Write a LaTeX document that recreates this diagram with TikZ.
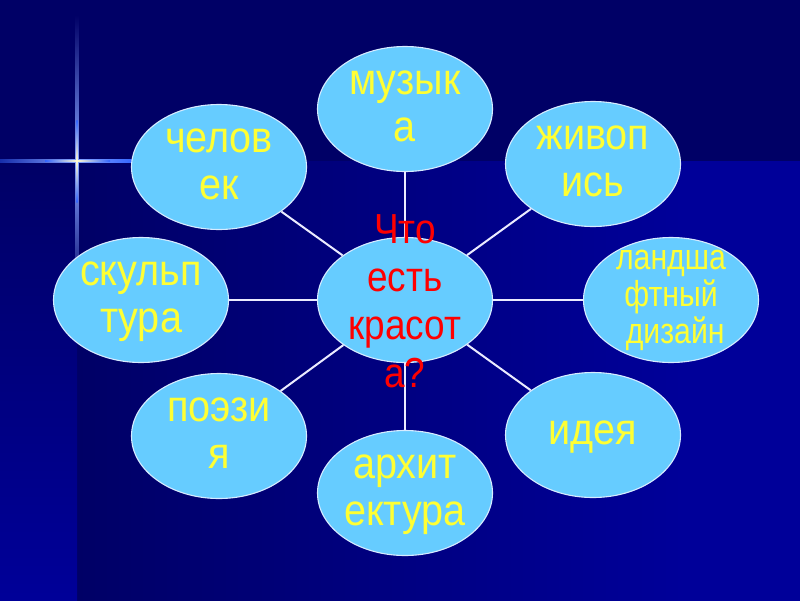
\documentclass[tikz,border=0pt]{standalone}
\usepackage{fontspec}
\setmainfont{Liberation Sans}
\usetikzlibrary{shapes.geometric}
\definecolor{bgdark}{RGB}{0,0,102}
\definecolor{bglight}{RGB}{0,0,153}
\definecolor{bub}{RGB}{102,204,255}
\definecolor{bubedge}{RGB}{215,235,255}
\definecolor{txty}{RGB}{255,255,51}
\definecolor{txtr}{RGB}{255,0,0}
\definecolor{starblue}{RGB}{50,100,255}
\definecolor{starcore}{RGB}{255,250,210}
\newcommand{\sqz}[2][0.9]{\scalebox{#1}[1]{\begin{tabular}{@{}c@{}}#2\end{tabular}}}
\begin{document}
\begin{tikzpicture}[x=1pt,y=-1pt,
  bubble/.style={ellipse, fill=bub, draw=bubedge, line width=1.1pt, minimum width=175pt, minimum height=125pt, inner sep=0pt},
  ytext/.style={text=txty, font=\fontsize{44}{47}\selectfont, inner sep=0pt},
  ysmall/.style={text=txty, font=\fontsize{36}{34}\selectfont, inner sep=0pt},
  rtext/.style={text=txtr, font=\fontsize{42}{48}\selectfont, inner sep=0pt},
  link/.style={draw=white!92!blue, line width=2pt}]
\useasboundingbox (0,0) rectangle (800,600);
% background and star, drawn with y pointing up (coordinates are -y)
\begin{scope}[yscale=-1]
\fill[bgdark] (-5,5) rectangle (805,-605);
\shade[left color=bgdark, right color=bglight] (77,-161) rectangle (683,-605);
\fill[bglight] (683,-161) rectangle (805,-605);
\shade[top color=bgdark, bottom color=bglight] (-5,-161) rectangle (77,-605);
% horizontal arm
\shade[left color=starblue!45!bgdark, right color=starblue!60!white] (0,-159.4) rectangle (77,-162.6);
\shade[left color=starblue!60!white, right color=starblue] (77,-159.4) rectangle (135,-162.6);
% vertical arm
\shade[top color=bgdark, bottom color=starblue!60!white] (75.4,-15) rectangle (78.6,-161);
\shade[top color=starblue!60!white, bottom color=bgdark] (75.4,-161) rectangle (78.6,-305);
% bright core
\shade[left color=starblue, right color=starcore] (45,-160.4) rectangle (77,-161.6);
\shade[left color=starcore, right color=starblue] (77,-160.4) rectangle (110,-161.6);
\shade[top color=starblue, bottom color=starcore] (76.4,-120) rectangle (77.6,-161);
\shade[top color=starcore, bottom color=starblue] (76.4,-161) rectangle (77.6,-202);
\fill[starcore] (77,-161) circle (1.6);
\end{scope}
% bubbles
\node[bubble] (c)   at (405,300) {};
\node[bubble] (mus) at (405,109) {};
\node[bubble] (man) at (219,167) {};
\node[bubble] (pai) at (593,164) {};
\node[bubble] (scu) at (141,300) {};
\node[bubble] (lan) at (671,300) {};
\node[bubble] (poe) at (219,436) {};
\node[bubble] (ide) at (593,435) {};
\node[bubble] (arc) at (405,493) {};
% connectors
\draw[link] (c) -- (mus);
\draw[link] (c) -- (man);
\draw[link] (c) -- (pai);
\draw[link] (c) -- (scu);
\draw[link] (c) -- (lan);
\draw[link] (c) -- (poe);
\draw[link] (c) -- (ide);
\draw[link] (c) -- (arc);
% texts
\node[ytext] (mus-t) at (mus) {\sqz{музык\\а}};
\node[ytext] (man-t) at (man) {\sqz{челов\\ек}};
\node[ytext] (pai-t) at (pai) {\sqz{живоп\\ись}};
\node[ytext] (scu-t) at (scu) {\sqz{скульп\\тура}};
\node[ysmall] (lan-t) at (lan) {\sqz[0.84]{ландша\\фтный\\\ дизайн}};
\node[ytext] (poe-t) at (poe) {\sqz{поэзи\\я}};
\node[ytext] (ide-t) at (ide) {\sqz{идея}};
\node[ytext] (arc-t) at (arc) {\sqz{архит\\ектура}};
\node[rtext, yshift=-6pt] (c-t) at (c) {\sqz[0.88]{Что\\есть\\красот\\а?}};
\end{tikzpicture}
\end{document}
